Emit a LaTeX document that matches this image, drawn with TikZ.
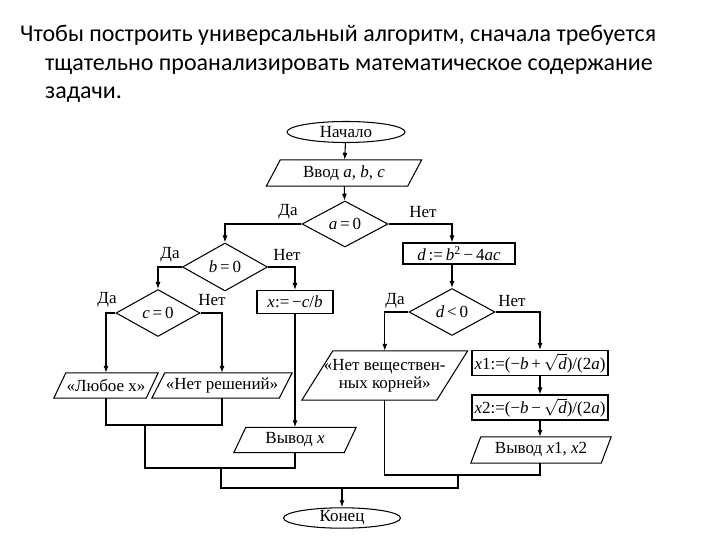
\documentclass[tikz,border=0pt]{standalone}
\usepackage{fontspec}
\setmainfont{Liberation Serif}
\newfontfamily\hdrfont{Carlito}
\usetikzlibrary{shapes.geometric,arrows.meta}
\newcommand{\drawpara}[2]{%
  \draw[ln] ([xshift=#2pt]#1.north west) -- ([xshift=#2pt]#1.north east)
    -- ([xshift=-#2pt]#1.south east) -- ([xshift=-#2pt]#1.south west) -- cycle;}
\tikzset{
  ln/.style={line width=1.05pt, black},
  arr/.style={ln, -{Latex[length=7pt,width=5pt]}},
  term/.style={ellipse, draw, ln, inner sep=0pt},
  procbox/.style={rectangle, draw, ln, inner sep=0pt},
  iobox/.style={rectangle, draw=none, inner sep=0pt, align=center},
  decide/.style={diamond, draw, ln, inner sep=0pt},
  lbl/.style={inner sep=0pt},
  hdr/.style={inner sep=0pt, anchor=base west, font=\hdrfont\fontsize{24}{28}\selectfont}
}
\begin{document}
\begin{tikzpicture}[x=1pt, y=-1pt, font=\fontsize{17}{18}\selectfont]
\useasboundingbox (0,0) rectangle (720,540);
\fill[white] (0,0) rectangle (720,540);
% header text
\node[hdr] (h1) at (20,42) {Чтобы построить универсальный алгоритм, сначала требуется};
\node[hdr] (h2) at (45,71) {тщательно проанализировать математическое содержание};
\node[hdr] (h3) at (45,99) {задачи.};
% nodes
\node[term, minimum width=118pt, minimum height=21pt] (start) at (346,132) {Начало};
\node[iobox, minimum width=141pt, minimum height=26pt] (inp) at (344,173) {Ввод \textit{a}, \textit{b}, \textit{c}};
\drawpara{inp}{7}
\node[decide, minimum width=86pt, minimum height=46pt] (a0) at (345,224) {\textit{a}\,=\,0};
\node[decide, minimum width=85pt, minimum height=48pt] (b0) at (225,267) {\textit{b}\,=\,0};
\node[decide, minimum width=84pt, minimum height=47pt] (c0) at (158,313) {\textit{c}\,=\,0};
\node[procbox, minimum width=76pt, minimum height=23pt] (cb) at (295,302) {\textit{x}:=\,−\textit{c}/\textit{b}};
\node[procbox, minimum width=112pt, minimum height=21pt] (dbox) at (459,253.5) {\textit{d}\,:=\,\textit{b}\textsuperscript{2}\,−\,4\textit{ac}};
\node[decide, minimum width=86pt, minimum height=47pt] (dlt) at (452,312) {\textit{d}\,<\,0};
\node[iobox, minimum width=92pt, minimum height=25pt] (any) at (106,385.5) {«Любое x»};
\drawpara{any}{6}
\node[iobox, minimum width=127pt, minimum height=25pt] (none) at (222,385.5) {«Нет решений»};
\drawpara{none}{6.5}
\node[iobox, minimum width=110pt, minimum height=25pt] (outx) at (295,440) {Вывод \textit{x}};
\drawpara{outx}{6}
\node[iobox, minimum width=134.5pt, minimum height=49pt] (novr) at (384.75,375.5) {«Нет веществен-\\ных корней»};
\drawpara{novr}{15.5}
\node[procbox, minimum width=136pt, minimum height=25pt] (x1) at (540,363) {\textit{x}1:=(−\textit{b}\,+\,$\sqrt{\textit{d}}$)/(2\textit{a})};
\node[procbox, minimum width=136pt, minimum height=25pt] (x2) at (540,407.5) {\textit{x}2:=(−\textit{b}\,−\,$\sqrt{\textit{d}}$)/(2\textit{a})};
\node[iobox, minimum width=130pt, minimum height=26pt] (out2) at (541,450) {Вывод \textit{x}1, \textit{x}2};
\drawpara{out2}{5}
\node[term, minimum width=117pt, minimum height=20pt] (end) at (342,518) {Конец};
% labels
\node[lbl] (la1) at (288,212) {Да};
\node[lbl] (la2) at (423,212) {Нет};
\node[lbl] (lb1) at (170,255) {Да};
\node[lbl] (lb2) at (287,255) {Нет};
\node[lbl] (lc1) at (107,300) {Да};
\node[lbl] (lc2) at (212,300) {Нет};
\node[lbl] (ld1) at (395,301) {Да};
\node[lbl] (ld2) at (512,301) {Нет};
% join points
\coordinate (j1) at (145,425);
\coordinate (j2) at (221,468);
\coordinate (j3) at (458,475);
\coordinate (j4) at (342,488);
% connectors
\draw[arr] (start) -- (inp);
\draw[arr] (inp) -- (a0);
\draw[arr] (a0.west) -| (b0.north);
\draw[arr] (a0.east) -| (dlt.north |- dbox.north);
\draw[arr] (dbox.south -| dlt.north) -- (dlt.north);
\draw[arr] (b0.west) -| (c0.north);
\draw[arr] (b0.east) -| (cb.north);
\draw[arr] (c0.west) -| (any.north);
\draw[arr] (c0.east) -| (none.north);
\draw[arr] (cb.south) -- (outx.north);
\draw[arr] (dlt.west) -| (novr.north);
\draw[arr] (dlt.east) -| (x1.north);
\draw[arr] (x1) -- (x2);
\draw[arr] (x2.south) -- (x2.south |- out2.north);
\draw[ln] (any.south) |- (j1) -| (none.south);
\draw[ln] (j1) |- (j2) -| (outx.south);
\draw[ln] (novr.south) |- (j3) -| (out2.south -| x2.south);
\draw[ln] (j2) |- (j4) -| (j3);
\draw[arr] (j4) -- (end.north);
\end{tikzpicture}
\end{document}
